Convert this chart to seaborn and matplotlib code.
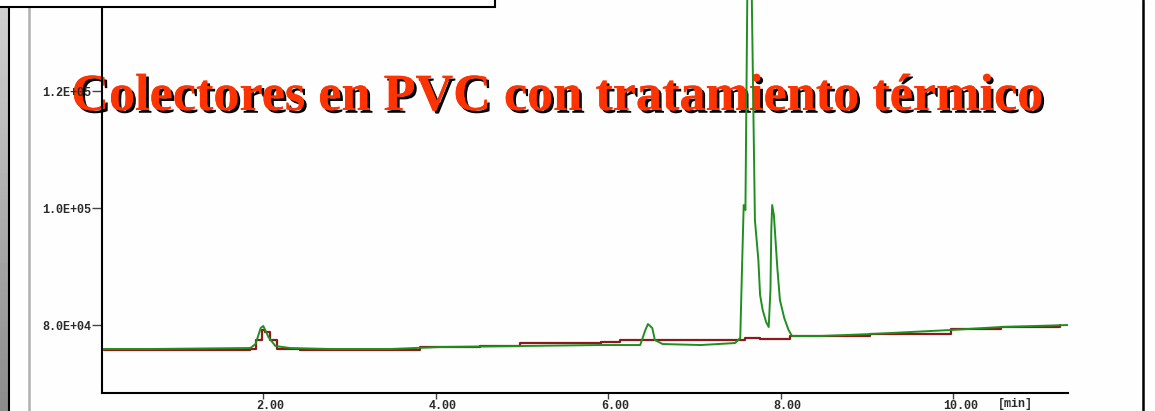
import numpy as np
import pandas as pd
import matplotlib
matplotlib.use("Agg")
import matplotlib.pyplot as plt
import matplotlib.patheffects as pe
from matplotlib.patches import Rectangle
from matplotlib.lines import Line2D
import matplotlib.transforms as mtransforms
import seaborn as sns

# ---------------- data ----------------
title = "Colectores en PVC con tratamiento térmico"

green_time = [0.15, 0.69, 1.85, 1.91, 1.97, 2.00, 2.06, 2.14, 2.31, 2.78, 3.47, 4.05,
              4.98, 5.91, 6.37, 6.43, 6.46, 6.51, 6.54, 6.63, 7.07, 7.47, 7.53, 7.55,
              7.57, 7.59, 7.62, 7.66, 7.70, 7.74, 7.76, 7.79, 7.83, 7.86, 7.88, 7.89,
              7.90, 7.92, 7.96, 7.99, 8.04, 8.09, 8.13, 8.46, 9.04, 9.97, 10.55, 11.33]
green_abund = [75900, 75900, 76070, 76750, 79490, 79830, 77950, 76410, 76070, 75900, 75900, 76240,
               76410, 76580, 76580, 79150, 80170, 79490, 77440, 76750, 76580, 76920, 77780, 89400,
               100510, 99660, 150000, 140000, 97950, 91110, 85130, 82560, 80510, 79660, 85980, 96240,
               100510, 98800, 89740, 84270, 81200, 79150, 78120, 78120, 78460, 79150, 79660, 80000]

red_time = [0.15, 1.30, 1.85, 1.92, 1.98, 2.02, 2.08, 2.16, 2.42, 3.35, 3.82, 4.51,
            4.98, 5.91, 6.14, 7.07, 7.53, 7.59, 7.76, 8.11, 9.04, 9.97, 10.55, 11.24]
red_abund = [75730, 75730, 75900, 77440, 79150, 78810, 77440, 75900, 75730, 75730, 76240, 76410,
             76920, 77100, 77440, 77440, 77440, 77780, 77610, 78120, 78460, 79320, 79660, 80000]

x_ticks = [2, 4, 6, 8, 10]
x_tick_labels = ["2.00", "4.00", "6.00", "8.00", "10.00"]
y_ticks = [80000, 100000, 120000]
y_tick_labels = ["8.0E+04", "1.0E+05", "1.2E+05"]
x_unit = "[min]"

# ---------------- figure ----------------
sns.set_style("white")
plt.rcParams["font.family"] = ["DejaVu Sans"]

W, H = 1155, 411
fig = plt.figure(figsize=(W / 100, H / 100), dpi=100)
fig.patch.set_facecolor("#fefefe")

# slide decorations
grad_ax = fig.add_axes([0, 0, 8 / W, 1])
grad_ax.imshow(np.linspace(0.82, 0.55, 64).reshape(-1, 1), cmap="gray", vmin=0, vmax=1,
               aspect="auto", extent=[0, 1, 0, 1])
grad_ax.axis("off")
fig.add_artist(Line2D([8.5 / W, 8.5 / W], [0, 1], color="black", lw=1.5))
fig.add_artist(Line2D([29 / W, 29 / W], [0, 1], color="#b0b0b0", lw=1.8))
fig.add_artist(Line2D([1143 / W, 1143 / W], [0, 1], color="black", lw=1.8))

ax = fig.add_axes([102 / W, 18 / H, (1068 - 102) / W, (H - 18) / H])
ax.patch.set_visible(False)

df_g = pd.DataFrame({"t": green_time, "a": green_abund})
df_r = pd.DataFrame({"t": red_time, "a": red_abund})
sns.lineplot(data=df_r, x="t", y="a", ax=ax, color="#8b1a1a", lw=1.6, estimator=None,
             drawstyle="steps-post")
sns.lineplot(data=df_g, x="t", y="a", ax=ax, color="#1f8f1f", lw=1.4, estimator=None)

ax.set_xlim(0.13, 11.33)
ax.set_ylim(68380, 135560)
for s in ["top", "right"]:
    ax.spines[s].set_visible(False)
for s in ["left", "bottom"]:
    ax.spines[s].set_color("black")
    ax.spines[s].set_linewidth(1.5)

tick_font = dict(fontfamily="Liberation Mono", fontsize=8.5, fontweight="bold", color="#2a2a2a")
ax.set_xticks(x_ticks)
ax.set_xticklabels(x_tick_labels, **tick_font)
ax.set_yticks(y_ticks)
ax.set_yticklabels(y_tick_labels, **tick_font)
ax.tick_params(axis="y", direction="out", length=7, width=1, color="#444444", pad=1, left=True)
ax.tick_params(axis="x", direction="out", length=4, width=1, color="#444444", pad=1, bottom=True)
offset = mtransforms.ScaledTranslation(7 / 100, 0, fig.dpi_scale_trans)
for lab in ax.get_xticklabels():
    lab.set_transform(lab.get_transform() + offset)
ax.set_xlabel("")
ax.set_ylabel("")
ax.text(10.72, -0.012, x_unit, transform=ax.get_xaxis_transform(), ha="center", va="top",
        **tick_font)

# top-left box of the slide
fig.add_artist(Rectangle((-0.01, (H - 7) / H), (495 / W) + 0.01, 0.05, transform=fig.transFigure,
                         facecolor="white", edgecolor="black", lw=1.5, zorder=5))

# title with drop shadow (drawn beneath the chart lines, as in the slide)
fig.text(557 / W, (H - 110) / H, title, ha="center", va="baseline",
         fontfamily="Liberation Serif", fontweight="bold", fontsize=37.6, color="#ff3300",
         path_effects=[pe.withSimplePatchShadow(offset=(2, -2), shadow_rgbFace="black", alpha=1.0),
                       pe.Normal()], zorder=-1)

fig.savefig("out.png", dpi=100, facecolor=fig.get_facecolor())
